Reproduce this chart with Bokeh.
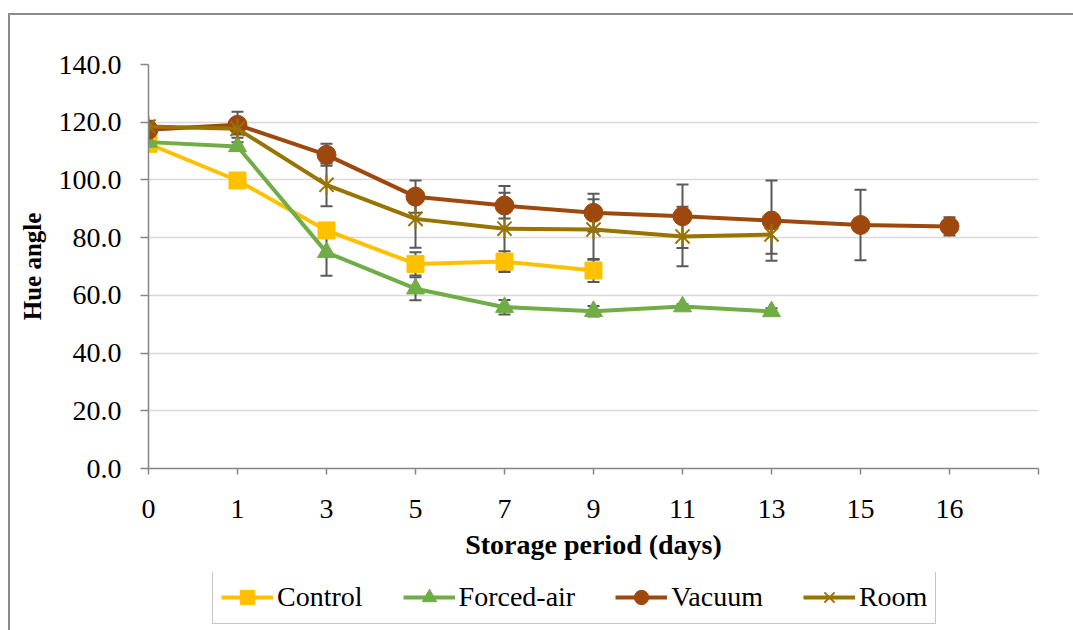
from bokeh.plotting import figure
from bokeh.layouts import column
from bokeh.models import (ColumnDataSource, Whisker, TeeHead, Legend, LegendItem,
                          FixedTicker, NumeralTickFormatter, Range1d)
from bokeh.embed import file_html
from bokeh.resources import INLINE

# Storage days shown as evenly spaced categories (last slot left empty)
days = ["0", "1", "3", "5", "7", "9", "11", "13", "15", "16", ""]

control = [112.5, 99.8, 82.5, 70.9, 71.7, 68.6]
control_err = [1.0, 1.0, 2.0, 4.0, 3.6, 4.0]

forced_air = [113.1, 111.6, 74.9, 62.3, 55.9, 54.5, 56.1, 54.4]
forced_air_err = [1.0, 1.5, 8.1, 4.0, 2.5, 1.8, 0.8, 1.1]

vacuum = [117.4, 119.1, 108.7, 94.2, 91.1, 88.6, 87.4, 85.9, 84.4, 83.9]
vacuum_err = [2.0, 4.5, 3.8, 5.6, 4.5, 6.6, 11.0, 13.9, 12.2, 3.2]

room = [118.5, 117.7, 98.3, 86.5, 83.1, 82.8, 80.4, 81.1]
room_err = [2.0, 2.0, 7.4, 10.0, 14.8, 10.5, 10.3, 6.7]

y_ticks = [0, 20, 40, 60, 80, 100, 120, 140]

FONT = "Liberation Serif"
FS = "28px"
ERR_COLOR = "#595959"
AXIS_COLOR = "#868686"
FRAME = "#8c8c8c"

p = figure(width=1073, height=572, output_backend="svg", toolbar_location=None,
           x_range=Range1d(0, len(days) - 1), y_range=Range1d(0, 140),
           min_border_left=148, min_border_right=35, min_border_top=64,
           min_border_bottom=104)
p.outline_line_color = None
p.background_fill_color = "white"
p.border_fill_alpha = 0

# x axis: category index positions labelled with the day values
p.xaxis.ticker = FixedTicker(ticks=list(range(len(days))))
p.xaxis.major_label_overrides = {i: d for i, d in enumerate(days)}
p.xaxis.axis_label = "Storage period (days)"
p.yaxis.axis_label = "Hue angle"
p.yaxis.ticker = FixedTicker(ticks=y_ticks)
p.yaxis.formatter = NumeralTickFormatter(format="0.0")

for ax in (p.xaxis, p.yaxis):
    ax.axis_line_color = AXIS_COLOR
    ax.axis_line_width = 1.5
    ax.major_tick_line_color = AXIS_COLOR
    ax.major_tick_line_width = 1.5
    ax.major_tick_in = 0
    ax.minor_tick_line_color = None
    ax.major_label_text_font = FONT
    ax.major_label_text_font_size = FS
    ax.major_label_text_color = "black"
    ax.axis_label_text_font = FONT
    ax.axis_label_text_font_style = "bold"
    ax.axis_label_text_color = "black"
p.xaxis.axis_label_text_font_size = "28px"
p.yaxis.axis_label_text_font_size = "25px"
p.xaxis.major_tick_out = 6
p.yaxis.major_tick_out = 8
p.xaxis.major_label_standoff = 25
p.xaxis.axis_label_standoff = 8
p.yaxis.major_label_standoff = 19
p.yaxis.axis_label_standoff = 10

p.xgrid.grid_line_color = None
p.ygrid.grid_line_color = "#d9d9d9"
p.ygrid.grid_line_width = 1.5
p.ygrid.ticker = FixedTicker(ticks=y_ticks)

series = [
    ("Control", control, control_err, "#FFC000", "square", 17),
    ("Forced-air", forced_air, forced_air_err, "#70AD47", "triangle", 18),
    ("Vacuum", vacuum, vacuum_err, "#9E480E", "circle", 19),
    ("Room", room, room_err, "#997300", "star", 20),
]

# error bars first so the lines and markers sit on top of them
for name, vals, errs, color, marker, size in series:
    xs = list(range(len(vals)))
    src = ColumnDataSource(dict(x=xs, lo=[v - e for v, e in zip(vals, errs)],
                                hi=[v + e for v, e in zip(vals, errs)]))
    w = Whisker(base="x", lower="lo", upper="hi", source=src, level="underlay",
                line_color=ERR_COLOR, line_width=2,
                upper_head=TeeHead(size=12, line_color=ERR_COLOR, line_width=2),
                lower_head=TeeHead(size=12, line_color=ERR_COLOR, line_width=2))
    p.add_layout(w)


def draw_series(fig, src, color, marker, size):
    ln = fig.line("x", "y", source=src, line_color=color, line_width=4)
    if marker == "star":
        m1 = fig.scatter("x", "y", source=src, marker="x", size=size,
                         line_color=color, line_width=2)
        m2 = fig.scatter("x", "y", source=src, marker="dash", size=size,
                         angle=1.5708, line_color=color, line_width=2)
        return [ln, m1, m2]
    m = fig.scatter("x", "y", source=src, marker=marker, size=size,
                    fill_color=color, line_color=color)
    return [ln, m]


sources = []
for name, vals, errs, color, marker, size in series:
    src = ColumnDataSource(dict(x=list(range(len(vals))), y=vals))
    sources.append(src)
    draw_series(p, src, color, marker, size)

# legend strip under the chart; its swatch renderers share the series data
# but lie outside this strip's ranges, so only the legend itself shows
leg = figure(width=1073, height=58, output_backend="svg", toolbar_location=None,
             x_axis_type=None, y_axis_type=None,
             x_range=Range1d(0, 1), y_range=Range1d(0, 1),
             min_border_left=0, min_border_right=0, min_border_top=0,
             min_border_bottom=0)
leg.outline_line_color = None
leg.grid.grid_line_color = None
leg.background_fill_alpha = 0
leg.border_fill_alpha = 0

items = []
for (name, vals, errs, color, marker, size), src in zip(series, sources):
    items.append(LegendItem(label=name,
                            renderers=draw_series(leg, src, color, marker, size)))

# the strip's frame is aligned with the chart frame above (starts at x=148)
legend = Legend(items=items, orientation="horizontal", location=(64, 6),
                label_text_font=FONT, label_text_font_size=FS,
                label_text_color="black", glyph_width=52, glyph_height=36,
                label_standoff=4, spacing=40, padding=8, margin=0,
                border_line_color=FRAME, border_line_width=1.5,
                background_fill_color="white", background_fill_alpha=1)
leg.add_layout(legend, "center")

layout = column(p, leg, spacing=0)
# chart-area border (top and left edges) painted behind the transparent canvases
layout.styles = {
    "background": (f"linear-gradient({FRAME},{FRAME}) 8px 13px / 2px 100% no-repeat, "
                   f"linear-gradient({FRAME},{FRAME}) 8px 13px / 100% 2px no-repeat, white"),
}

open("out.html", "w").write(file_html(layout, INLINE))
